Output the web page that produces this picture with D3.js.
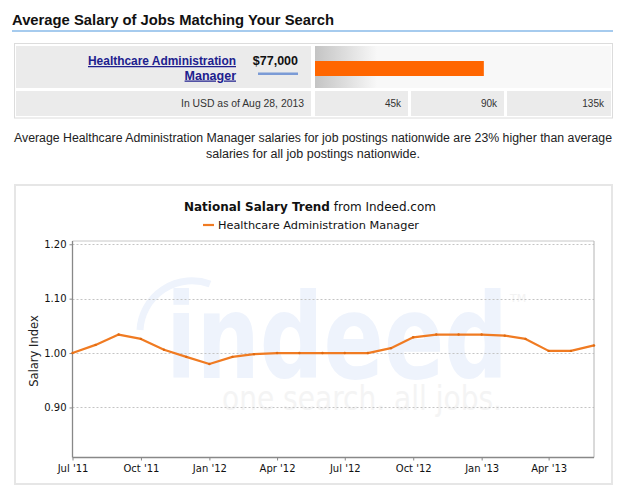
<!DOCTYPE html>
<html lang="en">
<head>
	<meta charset="UTF-8">
	<title>Average Salary</title>
	<script src="https://cdn.jsdelivr.net/npm/d3@7"></script>
	<style>
		body{
			margin: 0px;
			background: #fff;
		}
		text{
			font-family: "Liberation Sans", Arial, sans-serif;
		}
		.chart text{
			font-family: "DejaVu Sans", sans-serif;
		}
	</style>
</head>
<body>
	<svg></svg>
	<script>
		// salary bar
		var jobTitle = ["Healthcare Administration", "Manager"],
			avgSalary = 77000,
			salaryTicks = [45000, 90000, 135000],
			salaryTickLabels = ["45k", "90k", "135k"];

		// trend line, monthly
		var months = ["2011-07", "2011-08", "2011-09", "2011-10", "2011-11", "2011-12",
			"2012-01", "2012-02", "2012-03", "2012-04", "2012-05", "2012-06",
			"2012-07", "2012-08", "2012-09", "2012-10", "2012-11", "2012-12",
			"2013-01", "2013-02", "2013-03", "2013-04", "2013-05", "2013-06"];
		var salaryIndex = [1.000, 1.015, 1.034, 1.026, 1.006, 0.993,
			0.980, 0.993, 0.998, 1.000, 1.000, 1.000,
			1.000, 1.000, 1.009, 1.029, 1.034, 1.034,
			1.034, 1.032, 1.026, 1.004, 1.004, 1.014];
		var yTicks = [0.90, 1.00, 1.10, 1.20];
		var xTicks = ["2011-07", "2011-10", "2012-01", "2012-04", "2012-07", "2012-10", "2013-01", "2013-04"];

		window.onload = () => {
			var w = 625,
				h = 490,
				svg = d3.select("svg").attr("width", w).attr("height", h);

			// squeeze text to a given width
			function fit(sel, len) {
				sel.attr("textLength", len).attr("lengthAdjust", "spacingAndGlyphs");
				return sel;
			}

			// ---------- header ----------
			fit(svg.append("text")
				.attr("x", 12).attr("y", 25)
				.attr("font-size", 15).attr("font-weight", "bold").attr("fill", "#111")
				.text("Average Salary of Jobs Matching Your Search"), 322);
			svg.append("rect").attr("x", 12).attr("y", 30).attr("width", 601).attr("height", 2).attr("fill", "#a6cbee");

			// ---------- salary table ----------
			svg.append("rect").attr("x", 14.5).attr("y", 43.5).attr("width", 598).attr("height", 74.5)
				.attr("fill", "#fff").attr("stroke", "#dcdcdc");

			var grad = svg.append("defs").append("linearGradient").attr("id", "fade")
				.attr("x1", 0).attr("x2", 1).attr("y1", 0).attr("y2", 0);
			grad.append("stop").attr("offset", 0).attr("stop-color", "#c4c4c4");
			grad.append("stop").attr("offset", 0.21).attr("stop-color", "#f8f8f8");
			grad.append("stop").attr("offset", 1).attr("stop-color", "#f8f8f8");

			svg.append("rect").attr("x", 16).attr("y", 46).attr("width", 295).attr("height", 42).attr("fill", "#ebebeb");
			svg.append("rect").attr("x", 16).attr("y", 91).attr("width", 295).attr("height", 25).attr("fill", "#ebebeb");
			svg.append("rect").attr("x", 315).attr("y", 46).attr("width", 296).attr("height", 42).attr("fill", "url(#fade)");

			var sx = d3.scaleLinear().domain([0, 135000]).range([315, 611]);

			svg.append("rect")
				.attr("x", sx(0)).attr("y", 61)
				.attr("width", sx(avgSalary) - sx(0)).attr("height", 15)
				.attr("fill", "#ff6600");

			var cells = [[315, 408], [411, 504], [507, 611]];
			cells.forEach(function(c, i) {
				svg.append("rect").attr("x", c[0]).attr("y", 91).attr("width", c[1] - c[0]).attr("height", 25).attr("fill", "#ebebeb");
				svg.append("text")
					.attr("x", c[1] - 7).attr("y", 107)
					.attr("text-anchor", "end").attr("font-size", 10).attr("fill", "#333")
					.text(salaryTickLabels[i]);
			});

			fit(svg.append("text")
				.attr("x", 304).attr("y", 107)
				.attr("text-anchor", "end").attr("font-size", 10).attr("fill", "#333")
				.text("In USD as of Aug 28, 2013"), 123);

			jobTitle.forEach(function(t, i) {
				var tx = svg.append("text")
					.attr("x", 236).attr("y", 65 + i * 14.5)
					.attr("text-anchor", "end").attr("font-size", 12.5).attr("font-weight", "bold")
					.attr("fill", "#20208e").attr("text-decoration", "underline")
					.text(t);
				if (i == 0) fit(tx, 148);
			});

			svg.append("text")
				.attr("x", 298).attr("y", 65)
				.attr("text-anchor", "end").attr("font-size", 12.5).attr("font-weight", "bold").attr("fill", "#111")
				.text("$" + d3.format(",")(avgSalary));
			svg.append("rect").attr("x", 258).attr("y", 72.5).attr("width", 40).attr("height", 2.5).attr("fill", "#7b9bd6");

			// ---------- note ----------
			fit(svg.append("text")
				.attr("x", 313).attr("y", 142)
				.attr("text-anchor", "middle").attr("font-size", 12).attr("fill", "#222")
				.text("Average Healthcare Administration Manager salaries for job postings nationwide are 23% higher than average"), 598);
			fit(svg.append("text")
				.attr("x", 313).attr("y", 158)
				.attr("text-anchor", "middle").attr("font-size", 12).attr("fill", "#222")
				.text("salaries for all job postings nationwide."), 214);

			// ---------- trend chart ----------
			var chart = svg.append("g").attr("class", "chart");

			chart.append("rect").attr("x", 15).attr("y", 185).attr("width", 597).attr("height", 299)
				.attr("fill", "#fff").attr("stroke", "#e6e6e6").attr("stroke-width", 2);

			var parse = d3.timeParse("%Y-%m"),
				data = months.map(function(m, i) { return {date: parse(m), value: salaryIndex[i]}; });

			var pl = 72.5, pr = 594, pt = 241, pb = 457.5;
			var x = d3.scaleTime().domain([parse("2011-07"), parse("2013-06")]).range([pl, pr]),
				y = d3.scaleLinear().domain([0.808, 1.206]).range([pb, pt]);

			// watermark
			var wm = chart.append("g");
			wm.append("path")
				.attr("d", "M140,330 A52,52 0 0 1 210,284")
				.attr("fill", "none").attr("stroke", "#eef3fc").attr("stroke-width", 7);
			fit(wm.append("text")
				.attr("x", 166).attr("y", 378)
				.attr("font-family", "Liberation Sans, Arial").attr("font-size", 118).attr("font-weight", "bold")
				.attr("fill", "#eef3fc")
				.text("indeed"), 342);
			wm.append("text")
				.attr("x", 510).attr("y", 302)
				.attr("font-family", "Liberation Sans, Arial").attr("font-size", 11).attr("fill", "#f3f3f3")
				.text("TM");
			fit(wm.append("text")
				.attr("x", 222).attr("y", 410)
				.attr("font-family", "Liberation Sans, Arial").attr("font-size", 34)
				.attr("fill", "#f4f4f4")
				.text("one search. all jobs."), 280);

			// grid
			chart.selectAll(".grid").data(yTicks).enter().append("line")
				.attr("x1", pl).attr("x2", pr)
				.attr("y1", function(d) { return Math.round(y(d)) + 0.5; })
				.attr("y2", function(d) { return Math.round(y(d)) + 0.5; })
				.attr("stroke", "#c4c4c4").attr("stroke-dasharray", "2,2");

			// frame
			chart.append("line").attr("x1", pl).attr("x2", pr).attr("y1", pt).attr("y2", pt).attr("stroke", "#c8c8c8");
			chart.append("line").attr("x1", pr).attr("x2", pr).attr("y1", pt).attr("y2", pb).attr("stroke", "#b4b4b4");

			var yAxis = chart.append("g")
				.attr("transform", "translate(" + pl + ",0)")
				.call(d3.axisLeft(y).tickValues(yTicks).tickFormat(d3.format(".2f")).tickSize(3).tickPadding(3));
			var xAxis = chart.append("g")
				.attr("transform", "translate(0," + pb + ")")
				.call(d3.axisBottom(x).tickValues(xTicks.map(parse)).tickFormat(d3.timeFormat("%b '%y")).tickSize(3).tickPadding(4));

			[yAxis, xAxis].forEach(function(a) {
				a.select(".domain").attr("stroke", "#888").attr("stroke-width", 1.3);
				a.selectAll(".tick line").attr("stroke", "#888");
				a.selectAll(".tick text").attr("font-size", 10).attr("fill", "#111")
					.attr("font-family", "DejaVu Sans, sans-serif");
			});
			xAxis.select(".domain").attr("d", "M" + pl + ",0H" + pr);
			yAxis.select(".domain").attr("d", "M0," + pt + "V" + pb);

			chart.append("text")
				.attr("transform", "translate(38,351) rotate(-90)")
				.attr("text-anchor", "middle").attr("font-size", 11.5).attr("fill", "#222")
				.text("Salary Index");

			// line
			var line = d3.line().x(function(d) { return x(d.date); }).y(function(d) { return y(d.value); });
			chart.append("path").datum(data)
				.attr("d", line)
				.attr("fill", "none").attr("stroke", "#f07b22").attr("stroke-width", 2.2)
				.attr("stroke-linejoin", "round");
			chart.selectAll(".pt").data(data).enter().append("circle")
				.attr("cx", function(d) { return x(d.date); })
				.attr("cy", function(d) { return y(d.value); })
				.attr("r", 1.2).attr("fill", "#e06a10");

			// title + legend
			var title = chart.append("text")
				.attr("x", 310).attr("y", 211)
				.attr("text-anchor", "middle").attr("font-size", 12.5).attr("fill", "#111")
				.attr("font-family", "Liberation Sans, Arial");
			title.append("tspan").attr("font-weight", "bold").text("National Salary Trend");
			title.append("tspan").text(" from Indeed.com");
			fit(title, 252);

			chart.append("line").attr("x1", 203).attr("x2", 214).attr("y1", 225).attr("y2", 225)
				.attr("stroke", "#f07b22").attr("stroke-width", 2.2);
			fit(chart.append("text")
				.attr("x", 218).attr("y", 229)
				.attr("font-size", 11).attr("fill", "#111")
				.text("Healthcare Administration Manager"), 201);
		}
	</script>
</body>
</html>
